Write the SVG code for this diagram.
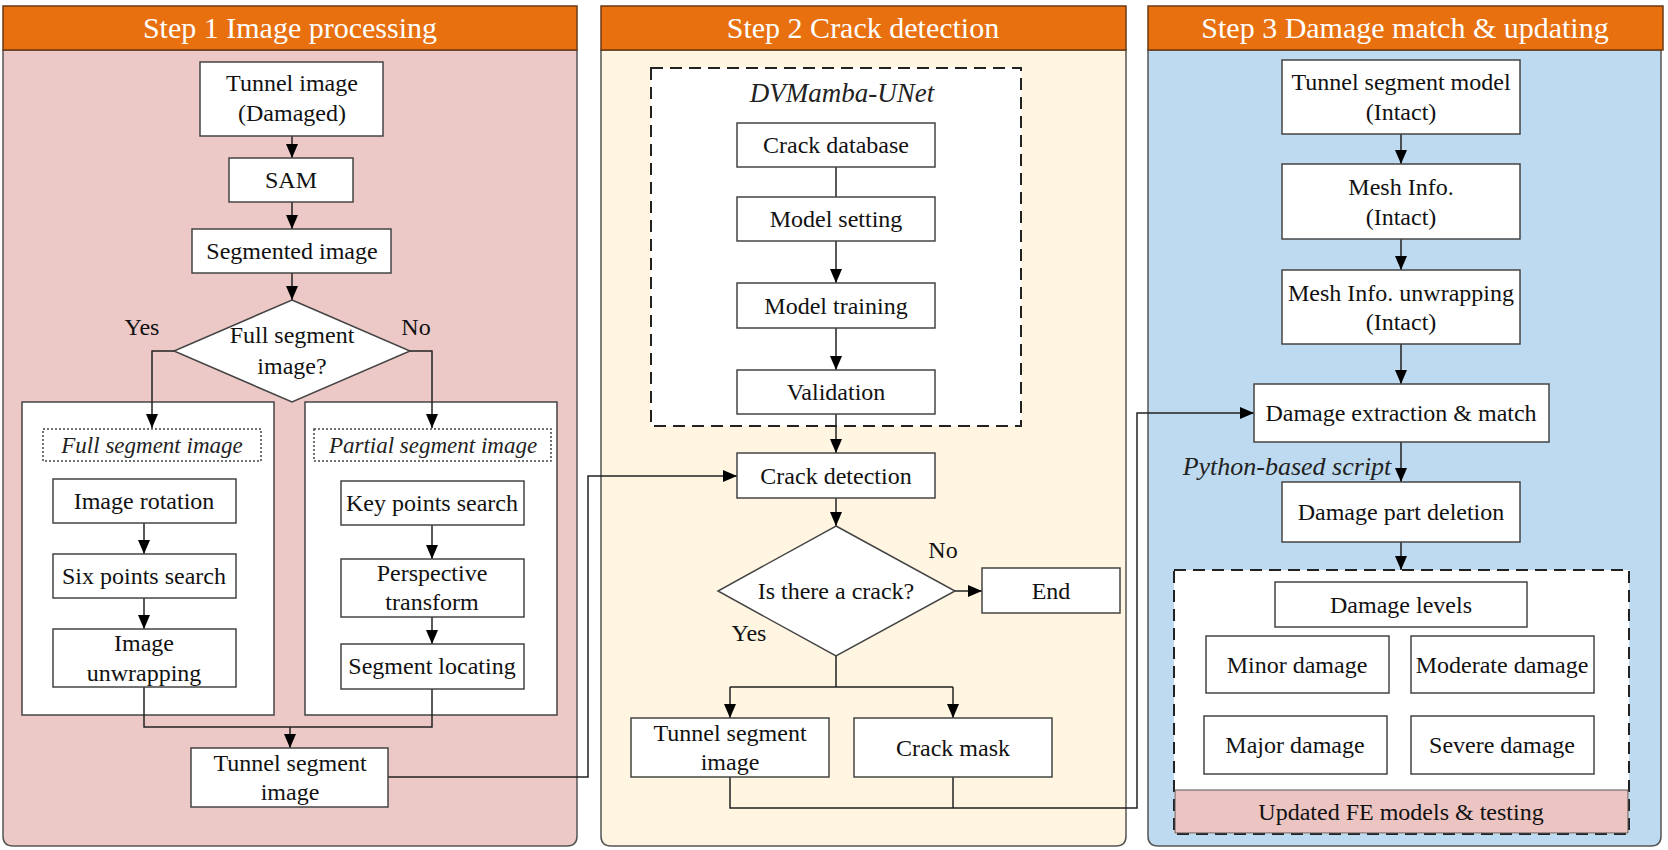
<svg xmlns="http://www.w3.org/2000/svg" width="1668" height="850" viewBox="0 0 1668 850">
<style>
.hdr{fill:#E8700F;stroke:#6b3a14;stroke-width:1.5}
.ht{font-family:"Liberation Serif","Times New Roman",serif;font-size:30px;fill:#fff;text-anchor:middle}
.body{stroke:#555;stroke-width:1.5}
.n{fill:#fff;stroke:#444;stroke-width:1.5}
.t{font-family:"Liberation Serif","Times New Roman",serif;font-size:24px;fill:#111;text-anchor:middle}
.it{font-family:"Liberation Serif","Times New Roman",serif;font-style:italic;fill:#222;text-anchor:middle}
.dot{fill:#fff;stroke:#444;stroke-width:1.5;stroke-dasharray:2 2}
.dash{fill:#fff;stroke:#222;stroke-width:2;stroke-dasharray:12 7}
.c{fill:none;stroke:#222;stroke-width:1.5}
.ca{fill:none;stroke:#222;stroke-width:1.5;marker-end:url(#arr)}
</style>
<defs>
<marker id="arr" markerUnits="userSpaceOnUse" markerWidth="14" markerHeight="12" viewBox="0 0 14 12" refX="14" refY="6" orient="auto">
<path d="M0,0 L14,6 L0,12 Z" fill="#000"/>
</marker>
</defs>
<rect width="1668" height="850" fill="#fff"/>

<g id="panel1">
<path class="body" fill="#ECC9C7" d="M3,50 H577 V836 Q577,846 567,846 H13 Q3,846 3,836 Z"/>
<rect class="hdr" x="3" y="6" width="574" height="44"/>
<text class="ht" x="290" y="38">Step 1 Image processing</text>
</g>
<g id="panel2">
<path class="body" fill="#FFF5E1" d="M601,50 H1126 V836 Q1126,846 1116,846 H611 Q601,846 601,836 Z"/>
<rect class="hdr" x="601" y="6" width="525" height="44"/>
<text class="ht" x="863" y="38">Step 2 Crack detection</text>
</g>
<g id="panel3">
<path class="body" fill="#BEDAF0" d="M1148,50 H1661 V836 Q1661,846 1651,846 H1158 Q1148,846 1148,836 Z"/>
<rect class="hdr" x="1148" y="6" width="515" height="44"/>
<text class="ht" x="1405" y="38">Step 3 Damage match &amp; updating</text>
</g>

<g id="full-group"><rect class="n" x="22" y="402" width="252" height="313"/></g>
<g id="partial-group"><rect class="n" x="305" y="402" width="252" height="313"/></g>
<g id="dvmamba-group">
<rect class="dash" x="651" y="68" width="370" height="358"/>
<text class="it" x="842" y="102" font-size="27" font-weight="300">DVMamba-UNet</text>
</g>
<g id="damage-group">
<rect class="dash" x="1174" y="570" width="455" height="264"/>
<rect x="1175" y="790" width="453" height="43" fill="#ECC5C3" stroke="#555" stroke-width="1"/>
<text class="t" x="1401" y="820">Updated FE models &amp; testing</text>
</g>

<g id="connectors">
<path class="ca" d="M292,136 V158"/>
<path class="ca" d="M292,202 V229"/>
<path class="ca" d="M292,273 V300"/>
<path class="ca" d="M174,351 H152 V428"/>
<path class="ca" d="M409,351 H432 V428"/>
<path class="ca" d="M144,523 V554"/>
<path class="ca" d="M144,598 V629"/>
<path class="ca" d="M432,525 V559"/>
<path class="ca" d="M432,617 V644"/>
<path class="c" d="M144,687 V727 H432 V689"/>
<path class="ca" d="M290,727 V748"/>
<path class="ca" d="M388,777 H588 V476 H737"/>
<path class="c" d="M836,167 V197"/>
<path class="ca" d="M836,241 V283"/>
<path class="ca" d="M836,328 V370"/>
<path class="ca" d="M836,414 V453"/>
<path class="ca" d="M836,498 V526"/>
<path class="ca" d="M955,591 H982"/>
<path class="c" d="M836,656 V687 M730,687 H953"/>
<path class="ca" d="M730,687 V718"/>
<path class="ca" d="M953,687 V718"/>
<path class="ca" d="M730,777 V808 H1137 V413 H1254"/>
<path class="c" d="M953,777 V808"/>
<path class="ca" d="M1401,134 V164"/>
<path class="ca" d="M1401,239 V270"/>
<path class="ca" d="M1401,344 V384"/>
<path class="ca" d="M1401,442 V482"/>
<path class="ca" d="M1401,542 V570"/>
<text class="it" x="1287" y="475" font-size="26">Python-based script</text>
<text class="t" x="142" y="335">Yes</text>
<text class="t" x="416" y="335">No</text>
<text class="t" x="943" y="558">No</text>
<text class="t" x="749" y="641">Yes</text>
</g>

<g id="tunnel-image"><rect class="n" x="200" y="62" width="183" height="74"/><text class="t" x="292" y="91">Tunnel image</text><text class="t" x="292" y="121">(Damaged)</text></g>
<g id="sam"><rect class="n" x="229" y="158" width="124" height="44"/><text class="t" x="291" y="188">SAM</text></g>
<g id="segmented-image"><rect class="n" x="192" y="229" width="199" height="44"/><text class="t" x="292" y="259">Segmented image</text></g>
<g id="full-segment-q"><polygon class="n" points="292,300 410,351 292,402 174,351"/><text class="t" x="292" y="343">Full segment</text><text class="t" x="292" y="374">image?</text></g>
<g id="full-label"><rect class="dot" x="43" y="429" width="218" height="32"/><text class="it" x="152" y="453" font-size="23">Full segment image</text></g>
<g id="partial-label"><rect class="dot" x="314" y="429" width="237" height="32"/><text class="it" x="433" y="453" font-size="23">Partial segment image</text></g>
<g id="image-rotation"><rect class="n" x="53" y="479" width="183" height="44"/><text class="t" x="144" y="509">Image rotation</text></g>
<g id="six-points"><rect class="n" x="53" y="554" width="183" height="44"/><text class="t" x="144" y="584">Six points search</text></g>
<g id="image-unwrapping"><rect class="n" x="53" y="629" width="183" height="58"/><text class="t" x="144" y="651">Image</text><text class="t" x="144" y="681">unwrapping</text></g>
<g id="key-points"><rect class="n" x="341" y="481" width="183" height="44"/><text class="t" x="432" y="511">Key points search</text></g>
<g id="perspective"><rect class="n" x="341" y="559" width="183" height="58"/><text class="t" x="432" y="581">Perspective</text><text class="t" x="432" y="610">transform</text></g>
<g id="segment-locating"><rect class="n" x="341" y="644" width="183" height="45"/><text class="t" x="432" y="674">Segment locating</text></g>
<g id="tunnel-segment-image-1"><rect class="n" x="191" y="748" width="197" height="59"/><text class="t" x="290" y="771">Tunnel segment</text><text class="t" x="290" y="800">image</text></g>

<g id="crack-database"><rect class="n" x="737" y="123" width="198" height="44"/><text class="t" x="836" y="153">Crack database</text></g>
<g id="model-setting"><rect class="n" x="737" y="197" width="198" height="44"/><text class="t" x="836" y="227">Model setting</text></g>
<g id="model-training"><rect class="n" x="737" y="283" width="198" height="45"/><text class="t" x="836" y="314">Model training</text></g>
<g id="validation"><rect class="n" x="737" y="370" width="198" height="44"/><text class="t" x="836" y="400">Validation</text></g>
<g id="crack-detection"><rect class="n" x="737" y="453" width="198" height="45"/><text class="t" x="836" y="484">Crack detection</text></g>
<g id="crack-q"><polygon class="n" points="836,526 955,591 836,656 718,591"/><text class="t" x="836" y="599">Is there a crack?</text></g>
<g id="end"><rect class="n" x="982" y="568" width="138" height="45"/><text class="t" x="1051" y="599">End</text></g>
<g id="tunnel-segment-image-2"><rect class="n" x="631" y="718" width="198" height="59"/><text class="t" x="730" y="741">Tunnel segment</text><text class="t" x="730" y="770">image</text></g>
<g id="crack-mask"><rect class="n" x="854" y="718" width="198" height="59"/><text class="t" x="953" y="756">Crack mask</text></g>

<g id="tunnel-segment-model"><rect class="n" x="1282" y="60" width="238" height="74"/><text class="t" x="1401" y="90">Tunnel segment model</text><text class="t" x="1401" y="120">(Intact)</text></g>
<g id="mesh-info"><rect class="n" x="1282" y="164" width="238" height="75"/><text class="t" x="1401" y="195">Mesh Info.</text><text class="t" x="1401" y="225">(Intact)</text></g>
<g id="mesh-unwrapping"><rect class="n" x="1282" y="270" width="238" height="74"/><text class="t" x="1401" y="301">Mesh Info. unwrapping</text><text class="t" x="1401" y="330">(Intact)</text></g>
<g id="damage-extraction"><rect class="n" x="1254" y="384" width="295" height="58"/><text class="t" x="1401" y="421">Damage extraction &amp; match</text></g>
<g id="damage-deletion"><rect class="n" x="1282" y="482" width="238" height="60"/><text class="t" x="1401" y="520">Damage part deletion</text></g>
<g id="damage-levels"><rect class="n" x="1275" y="582" width="252" height="45"/><text class="t" x="1401" y="613">Damage levels</text></g>
<g id="minor"><rect class="n" x="1206" y="636" width="183" height="57"/><text class="t" x="1297" y="673">Minor damage</text></g>
<g id="moderate"><rect class="n" x="1411" y="636" width="183" height="57"/><text class="t" x="1502" y="673">Moderate damage</text></g>
<g id="major"><rect class="n" x="1204" y="716" width="183" height="58"/><text class="t" x="1295" y="753">Major damage</text></g>
<g id="severe"><rect class="n" x="1411" y="716" width="183" height="58"/><text class="t" x="1502" y="753">Severe damage</text></g>
</svg>
